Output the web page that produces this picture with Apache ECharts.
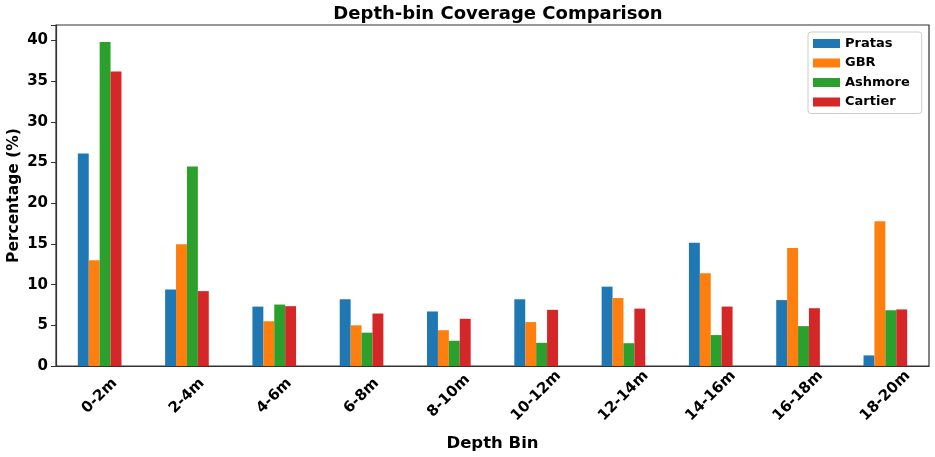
<!DOCTYPE html>
<html><head><meta charset="utf-8">
<script src="https://cdn.jsdelivr.net/npm/echarts@6/dist/echarts.min.js"></script>
<style>html,body{margin:0;padding:0;background:#fff}#c{width:935px;height:457px}</style>
</head><body><div id="c"></div>
<script>
const categories = ['0-2m','2-4m','4-6m','6-8m','8-10m','10-12m','12-14m','14-16m','16-18m','18-20m'];
const pratas  = [26.1, 9.4, 7.3, 8.2, 6.7, 8.2, 9.75, 15.15, 8.1, 1.3];
const gbr     = [13.0, 14.95, 5.5, 5.0, 4.4, 5.4, 8.35, 11.4, 14.5, 17.78];
const ashmore = [39.8, 24.5, 7.55, 4.1, 3.1, 2.85, 2.8, 3.8, 4.9, 6.85];
const cartier = [36.2, 9.2, 7.35, 6.45, 5.8, 6.9, 7.05, 7.3, 7.1, 6.95];
const yTicks = [0,5,10,15,20,25,30,35,40];

const font = 'DejaVu Sans';
const colors = ['#1f77b4','#ff7f0e','#2ca02c','#d62728'];
const names = ['Pratas','GBR','Ashmore','Cartier'];
const data = [pratas, gbr, ashmore, cartier];

const chart = echarts.init(document.getElementById('c'), null, {renderer:'canvas'});
chart.setOption({
  animation:false,
  color: colors,
  title:{text:'Depth-bin Coverage Comparison', left:493, top:0, textAlign:'center',
    textStyle:{fontFamily:font, fontWeight:'bold', fontSize:18, color:'#000'}},
  legend:{orient:'vertical', left:808, top:32, itemWidth:27, itemHeight:9, itemGap:6.5,
    borderColor:'#ccc', borderWidth:1, borderRadius:3, padding:[5,12,5,5],
    icon:'rect',
    textStyle:{fontFamily:font, fontWeight:'bold', fontSize:13, color:'#000'},
    data:names},
  grid:{left:56, right:6, top:25, bottom:91, outerBoundsMode:'none', containLabel:false,
    show:true, borderColor:'#333', borderWidth:1.2, backgroundColor:'transparent'},
  xAxis:{type:'category', data:categories,
    name:'Depth Bin', nameLocation:'middle', nameGap:69, nameMoveOverlap:false,
    nameTextStyle:{fontFamily:font, fontWeight:'bold', fontSize:16.5, color:'#000'},
    axisLine:{lineStyle:{color:'#333', width:1.2}},
    axisTick:{alignWithLabel:true, length:5, lineStyle:{color:'#333'}},
    axisLabel:{rotate:45, align:'center', verticalAlign:'middle', fontFamily:font, fontWeight:'bold', fontSize:15, color:'#000', margin:30}},
  yAxis:{type:'value', min:0, max:41.9, interval:5,
    name:'Percentage (%)', nameLocation:'middle', nameGap:34, nameMoveOverlap:false,
    nameTextStyle:{fontFamily:font, fontWeight:'bold', fontSize:15.5, color:'#000'},
    axisLine:{show:true, lineStyle:{color:'#333', width:1.2}},
    axisTick:{show:true, length:5, lineStyle:{color:'#333'}},
    splitLine:{show:false},
    axisLabel:{fontFamily:font, fontWeight:'bold', fontSize:15, color:'#000', margin:8,
      formatter:v => yTicks.includes(v) ? String(v) : ''}},
  series: names.map((n,i)=>({name:n, type:'bar', data:data[i], barGap:'0%', barCategoryGap:'50%',
    itemStyle:{color:colors[i]}}))
});
</script></body></html>
